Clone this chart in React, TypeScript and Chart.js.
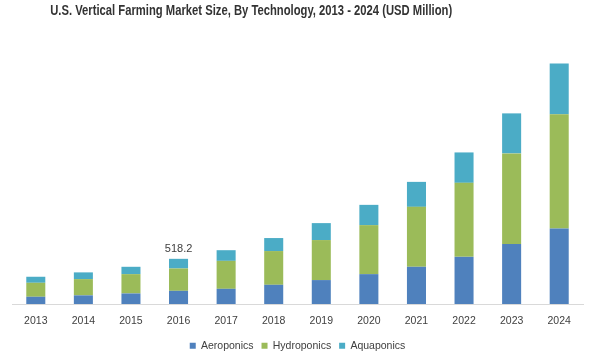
import React, { useEffect, useRef } from "react";
import { Chart, registerables } from "chart.js";

Chart.register(...registerables);

const TITLE = "U.S. Vertical Farming Market Size, By Technology, 2013 - 2024 (USD Million)";
const years = ["2013", "2014", "2015", "2016", "2017", "2018", "2019", "2020", "2021", "2022", "2023", "2024"];
const aeroponics = [84, 100, 122, 152, 175, 221, 275, 343, 427, 541, 687, 866];
const hydroponics = [160, 186, 221, 256, 320, 386, 458, 561, 686, 847, 1038, 1308];
const aquaponics = [69, 77, 84, 110.2, 122, 149, 194, 232, 286, 348, 458, 580];
const annotatedIndex = 3;
const annotatedLabel = "518.2";

export default function App() {
  const ref = useRef<HTMLCanvasElement | null>(null);
  useEffect(() => {
    if (!ref.current) return;
    const titlePlugin = {
      id: "customTitle",
      afterDraw(chart: any) {
        const ctx = chart.ctx;
        ctx.save();
        ctx.font = "bold 14px 'Liberation Sans', Arial, sans-serif";
        ctx.fillStyle = "#333333";
        ctx.textAlign = "center";
        ctx.textBaseline = "middle";
        const w = ctx.measureText(TITLE).width;
        const targetW = 402;
        const sx = targetW / w;
        ctx.translate(chart.width * 0.42, 11);
        ctx.scale(sx, 1);
        ctx.fillText(TITLE, 0, 0);
        ctx.restore();
      },
    };
    const labelPlugin = {
      id: "annot",
      afterDatasetsDraw(chart: any) {
        const ctx = chart.ctx;
        const x = chart.scales.x.getPixelForValue(annotatedIndex);
        const total = aeroponics[annotatedIndex] + hydroponics[annotatedIndex] + aquaponics[annotatedIndex];
        const y = chart.scales.y.getPixelForValue(total);
        ctx.save();
        ctx.font = "11px 'Liberation Sans', Arial, sans-serif";
        ctx.fillStyle = "#404040";
        ctx.textAlign = "center";
        ctx.textBaseline = "middle";
        ctx.fillText(annotatedLabel, x, y - 9.5);
        ctx.restore();
      },
    };
    const chart = new Chart(ref.current, {
      type: "bar",
      data: {
        labels: years,
        datasets: [
          { label: "Aeroponics", data: aeroponics, backgroundColor: "#4F81BD" },
          { label: "Hydroponics", data: hydroponics, backgroundColor: "#9BBB59" },
          { label: "Aquaponics", data: aquaponics, backgroundColor: "#4BACC6" },
        ],
      },
      options: {
        animation: false,
        responsive: false,
        maintainAspectRatio: false,
        layout: { padding: { top: 42, left: 12, right: 15, bottom: 1 } },
        datasets: { bar: { barPercentage: 0.4, categoryPercentage: 1 } },
        scales: {
          x: {
            stacked: true,
            grid: { display: false, drawTicks: false },
            border: { display: true, color: "#d9d9d9", width: 1 },
            ticks: {
              padding: 13,
              color: "#404040",
              font: { size: 10.5, lineHeight: 0.8, family: "'Liberation Sans', Arial, sans-serif" },
            },
            afterFit: (scale: any) => {
              scale.height = scale.height - 6;
            },
          },
          y: { stacked: true, display: false, min: 0, max: 3000 },
        },
        plugins: {
          title: { display: false },
          tooltip: { enabled: false },
          legend: {
            position: "bottom",
            labels: {
              boxWidth: 6,
              boxHeight: 6,
              padding: 8,
              color: "#404040",
              font: { size: 10.5, family: "'Liberation Sans', Arial, sans-serif" },
            },
          },
        },
      },
      plugins: [titlePlugin, labelPlugin],
    });
    return () => chart.destroy();
  }, []);
  return (
    <div style={{ position: "fixed", left: 0, top: 0, width: 598, height: 362, background: "#fff" }}>
      <canvas ref={ref} width={598} height={362} style={{ width: 598, height: 362 }} />
    </div>
  );
}
